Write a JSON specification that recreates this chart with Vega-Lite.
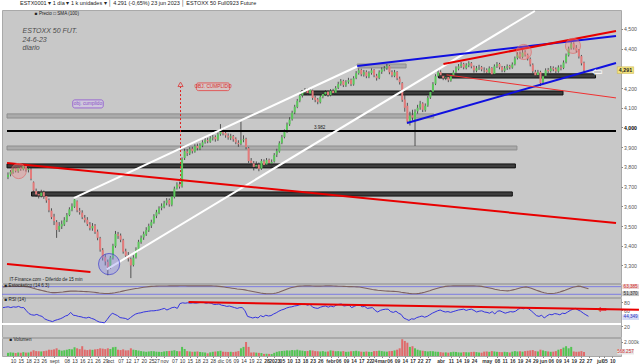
{
"$schema":"https://vega.github.io/schema/vega-lite/v6.json",
"background":"#ffffff",
"padding":0,
"spacing":1,
"bounds":"flush",
"title":{"text":"ESTX0001 ▾    1 día ▾    1 k unidades ▾    │    4.291 (-0,65%)  23 jun 2023   │  ESTOXX 50 Full0923 Future","anchor":"start","frame":"group","fontSize":5.5,"fontWeight":"normal","font":"Liberation Sans","color":"#222222","offset":3,"dx":18},
"datasets":{
"k":[
{"t":0,"o":3748,"h":3772,"l":3738,"c":3760,"v":450,"r":66,"s":78},
{"t":1,"o":3762,"h":3784,"l":3752,"c":3775,"v":520,"r":67,"s":80},
{"t":2,"o":3772,"h":3798,"l":3765,"c":3790,"v":480,"r":68,"s":82},
{"t":3,"o":3792,"h":3802,"l":3772,"c":3780,"v":430,"r":66,"s":82},
{"t":4,"o":3778,"h":3806,"l":3770,"c":3795,"v":500,"r":68,"s":83},
{"t":5,"o":3797,"h":3808,"l":3780,"c":3790,"v":460,"r":67,"s":84},
{"t":6,"o":3788,"h":3815,"l":3782,"c":3805,"v":550,"r":69,"s":84},
{"t":7,"o":3806,"h":3812,"l":3776,"c":3785,"v":480,"r":66,"s":83},
{"t":8,"o":3784,"h":3800,"l":3772,"c":3790,"v":500,"r":66,"s":82},
{"t":9,"o":3788,"h":3794,"l":3732,"c":3740,"v":620,"r":58,"s":80},
{"t":10,"o":3722,"h":3726,"l":3668,"c":3680,"v":820,"r":51,"s":77},
{"t":11,"o":3678,"h":3690,"l":3648,"c":3660,"v":700,"r":48,"s":72},
{"t":12,"o":3662,"h":3676,"l":3640,"c":3655,"v":680,"r":47,"s":66},
{"t":13,"o":3652,"h":3684,"l":3645,"c":3670,"v":650,"r":49,"s":60},
{"t":14,"o":3672,"h":3680,"l":3638,"c":3650,"v":700,"r":46,"s":55},
{"t":15,"o":3652,"h":3662,"l":3618,"c":3630,"v":760,"r":44,"s":50},
{"t":16,"o":3632,"h":3640,"l":3570,"c":3580,"v":900,"r":38,"s":45},
{"t":17,"o":3578,"h":3590,"l":3535,"c":3545,"v":880,"r":35,"s":40},
{"t":18,"o":3548,"h":3562,"l":3505,"c":3525,"v":950,"r":33,"s":36},
{"t":19,"o":3520,"h":3530,"l":3440,"c":3480,"v":1100,"r":31,"s":33},
{"t":20,"o":3482,"h":3520,"l":3470,"c":3500,"v":880,"r":34,"s":33},
{"t":21,"o":3498,"h":3528,"l":3485,"c":3510,"v":760,"r":36,"s":34},
{"t":22,"o":3508,"h":3545,"l":3500,"c":3530,"v":820,"r":38,"s":36},
{"t":23,"o":3528,"h":3566,"l":3520,"c":3555,"v":900,"r":41,"s":38},
{"t":24,"o":3556,"h":3595,"l":3550,"c":3585,"v":1000,"r":45,"s":41},
{"t":25,"o":3582,"h":3615,"l":3575,"c":3600,"v":950,"r":47,"s":43},
{"t":26,"o":3598,"h":3642,"l":3592,"c":3635,"v":1250,"r":54,"s":45},
{"t":27,"o":3625,"h":3630,"l":3570,"c":3580,"v":1100,"r":47,"s":46},
{"t":28,"o":3578,"h":3592,"l":3558,"c":3570,"v":980,"r":46,"s":45},
{"t":29,"o":3568,"h":3580,"l":3535,"c":3545,"v":1400,"r":44,"s":44},
{"t":30,"o":3542,"h":3556,"l":3518,"c":3530,"v":900,"r":43,"s":43},
{"t":31,"o":3532,"h":3545,"l":3500,"c":3510,"v":850,"r":41,"s":42},
{"t":32,"o":3508,"h":3520,"l":3478,"c":3490,"v":920,"r":40,"s":41},
{"t":33,"o":3488,"h":3515,"l":3476,"c":3500,"v":880,"r":42,"s":40},
{"t":34,"o":3502,"h":3510,"l":3460,"c":3470,"v":950,"r":39,"s":38},
{"t":35,"o":3472,"h":3482,"l":3428,"c":3440,"v":1000,"r":37,"s":36},
{"t":36,"o":3438,"h":3445,"l":3370,"c":3380,"v":1100,"r":33,"s":33},
{"t":37,"o":3378,"h":3388,"l":3325,"c":3340,"v":1050,"r":30,"s":30},
{"t":38,"o":3342,"h":3356,"l":3300,"c":3320,"v":980,"r":29,"s":28},
{"t":39,"o":3318,"h":3330,"l":3250,"c":3290,"v":1100,"r":28,"s":26},
{"t":40,"o":3292,"h":3348,"l":3282,"c":3340,"v":1000,"r":36,"s":26},
{"t":41,"o":3338,"h":3410,"l":3330,"c":3400,"v":1250,"r":45,"s":27},
{"t":42,"o":3398,"h":3475,"l":3390,"c":3460,"v":1300,"r":52,"s":29},
{"t":43,"o":3458,"h":3470,"l":3435,"c":3450,"v":900,"r":49,"s":32},
{"t":44,"o":3452,"h":3462,"l":3418,"c":3430,"v":850,"r":46,"s":36},
{"t":45,"o":3428,"h":3435,"l":3360,"c":3370,"v":950,"r":41,"s":40},
{"t":46,"o":3372,"h":3385,"l":3338,"c":3350,"v":800,"r":40,"s":45},
{"t":47,"o":3352,"h":3368,"l":3320,"c":3335,"v":820,"r":39,"s":50},
{"t":48,"o":3332,"h":3340,"l":3236,"c":3300,"v":1100,"r":36,"s":54},
{"t":49,"o":3302,"h":3352,"l":3295,"c":3340,"v":900,"r":41,"s":58},
{"t":50,"o":3342,"h":3392,"l":3335,"c":3380,"v":850,"r":46,"s":62},
{"t":51,"o":3378,"h":3430,"l":3372,"c":3420,"v":780,"r":50,"s":65},
{"t":52,"o":3418,"h":3452,"l":3410,"c":3440,"v":700,"r":52,"s":68},
{"t":53,"o":3442,"h":3472,"l":3430,"c":3460,"v":650,"r":53,"s":72},
{"t":54,"o":3458,"h":3494,"l":3450,"c":3480,"v":600,"r":55,"s":75},
{"t":55,"o":3478,"h":3512,"l":3470,"c":3500,"v":650,"r":56,"s":78},
{"t":56,"o":3502,"h":3532,"l":3490,"c":3520,"v":700,"r":57,"s":80},
{"t":57,"o":3518,"h":3560,"l":3512,"c":3550,"v":680,"r":58,"s":82},
{"t":58,"o":3552,"h":3582,"l":3540,"c":3570,"v":620,"r":58,"s":83},
{"t":59,"o":3568,"h":3600,"l":3560,"c":3590,"v":600,"r":59,"s":84},
{"t":60,"o":3592,"h":3615,"l":3580,"c":3600,"v":580,"r":60,"s":85},
{"t":61,"o":3598,"h":3628,"l":3590,"c":3615,"v":650,"r":62,"s":85},
{"t":62,"o":3618,"h":3642,"l":3605,"c":3630,"v":700,"r":64,"s":85},
{"t":63,"o":3632,"h":3640,"l":3598,"c":3610,"v":720,"r":60,"s":85},
{"t":64,"o":3608,"h":3660,"l":3600,"c":3650,"v":750,"r":63,"s":86},
{"t":65,"o":3648,"h":3700,"l":3640,"c":3690,"v":820,"r":66,"s":86},
{"t":66,"o":3692,"h":3722,"l":3685,"c":3710,"v":700,"r":67,"s":86},
{"t":67,"o":3712,"h":3725,"l":3690,"c":3700,"v":680,"r":64,"s":86},
{"t":68,"o":3702,"h":3848,"l":3695,"c":3840,"v":1300,"r":76,"s":87},
{"t":69,"o":3845,"h":3892,"l":3835,"c":3880,"v":1000,"r":78,"s":87},
{"t":70,"o":3878,"h":3890,"l":3855,"c":3870,"v":700,"r":77,"s":87},
{"t":71,"o":3868,"h":3900,"l":3860,"c":3890,"v":650,"r":78,"s":86},
{"t":72,"o":3892,"h":3902,"l":3868,"c":3880,"v":600,"r":77,"s":86},
{"t":73,"o":3878,"h":3915,"l":3872,"c":3905,"v":620,"r":78,"s":86},
{"t":74,"o":3906,"h":3918,"l":3884,"c":3895,"v":650,"r":77,"s":86},
{"t":75,"o":3893,"h":3920,"l":3885,"c":3910,"v":580,"r":78,"s":86},
{"t":76,"o":3908,"h":3935,"l":3900,"c":3925,"v":540,"r":79,"s":86},
{"t":77,"o":3926,"h":3946,"l":3918,"c":3935,"v":500,"r":79,"s":86},
{"t":78,"o":3936,"h":3948,"l":3920,"c":3930,"v":380,"r":77,"s":86},
{"t":79,"o":3928,"h":3956,"l":3922,"c":3945,"v":520,"r":78,"s":86},
{"t":80,"o":3946,"h":3962,"l":3934,"c":3950,"v":600,"r":77,"s":86},
{"t":81,"o":3952,"h":3960,"l":3928,"c":3940,"v":640,"r":74,"s":85},
{"t":82,"o":3938,"h":3975,"l":3932,"c":3965,"v":680,"r":74,"s":84},
{"t":83,"o":3966,"h":4017,"l":3958,"c":3985,"v":750,"r":75,"s":82},
{"t":84,"o":3984,"h":3995,"l":3960,"c":3970,"v":620,"r":72,"s":80},
{"t":85,"o":3972,"h":3982,"l":3948,"c":3960,"v":600,"r":71,"s":77},
{"t":86,"o":3958,"h":3970,"l":3938,"c":3950,"v":580,"r":69,"s":74},
{"t":87,"o":3948,"h":3968,"l":3936,"c":3955,"v":600,"r":70,"s":71},
{"t":88,"o":3956,"h":3962,"l":3928,"c":3940,"v":560,"r":68,"s":68},
{"t":89,"o":3942,"h":3950,"l":3915,"c":3925,"v":620,"r":66,"s":65},
{"t":90,"o":3922,"h":3935,"l":3902,"c":3915,"v":700,"r":64,"s":62},
{"t":91,"o":3918,"h":4030,"l":3910,"c":3935,"v":1100,"r":66,"s":60},
{"t":92,"o":3936,"h":3960,"l":3925,"c":3940,"v":1300,"r":66,"s":58},
{"t":93,"o":3942,"h":3948,"l":3890,"c":3900,"v":2000,"r":58,"s":55},
{"t":94,"o":3895,"h":3900,"l":3820,"c":3830,"v":1300,"r":44,"s":50},
{"t":95,"o":3832,"h":3845,"l":3805,"c":3820,"v":500,"r":42,"s":46},
{"t":96,"o":3818,"h":3830,"l":3782,"c":3800,"v":520,"r":40,"s":42},
{"t":97,"o":3802,"h":3828,"l":3792,"c":3810,"v":480,"r":42,"s":38},
{"t":98,"o":3812,"h":3822,"l":3778,"c":3790,"v":450,"r":40,"s":34},
{"t":99,"o":3792,"h":3840,"l":3785,"c":3830,"v":420,"r":46,"s":30},
{"t":100,"o":3828,"h":3838,"l":3798,"c":3810,"v":300,"r":43,"s":27},
{"t":101,"o":3812,"h":3845,"l":3805,"c":3835,"v":320,"r":47,"s":25},
{"t":102,"o":3836,"h":3842,"l":3808,"c":3820,"v":300,"r":45,"s":24},
{"t":103,"o":3818,"h":3838,"l":3800,"c":3825,"v":280,"r":46,"s":24},
{"t":104,"o":3828,"h":3870,"l":3822,"c":3860,"v":450,"r":50,"s":26},
{"t":105,"o":3862,"h":3892,"l":3850,"c":3880,"v":600,"r":53,"s":30},
{"t":106,"o":3878,"h":3930,"l":3872,"c":3920,"v":680,"r":57,"s":36},
{"t":107,"o":3922,"h":3962,"l":3915,"c":3950,"v":720,"r":60,"s":44},
{"t":108,"o":3952,"h":3990,"l":3945,"c":3980,"v":750,"r":62,"s":52},
{"t":109,"o":3978,"h":4025,"l":3972,"c":4015,"v":800,"r":65,"s":60},
{"t":110,"o":4016,"h":4052,"l":4008,"c":4040,"v":780,"r":67,"s":67},
{"t":111,"o":4042,"h":4085,"l":4035,"c":4075,"v":850,"r":68,"s":73},
{"t":112,"o":4076,"h":4115,"l":4068,"c":4105,"v":820,"r":70,"s":78},
{"t":113,"o":4104,"h":4145,"l":4098,"c":4135,"v":900,"r":71,"s":82},
{"t":114,"o":4136,"h":4170,"l":4128,"c":4160,"v":800,"r":73,"s":84},
{"t":115,"o":4162,"h":4190,"l":4152,"c":4180,"v":760,"r":74,"s":85},
{"t":116,"o":4178,"h":4200,"l":4170,"c":4190,"v":700,"r":75,"s":86},
{"t":117,"o":4192,"h":4198,"l":4165,"c":4175,"v":720,"r":72,"s":86},
{"t":118,"o":4172,"h":4200,"l":4165,"c":4190,"v":820,"r":74,"s":86},
{"t":119,"o":4188,"h":4192,"l":4140,"c":4150,"v":780,"r":67,"s":85},
{"t":120,"o":4152,"h":4162,"l":4128,"c":4140,"v":700,"r":65,"s":84},
{"t":121,"o":4142,"h":4150,"l":4118,"c":4130,"v":680,"r":64,"s":84},
{"t":122,"o":4128,"h":4165,"l":4122,"c":4155,"v":650,"r":67,"s":84},
{"t":123,"o":4156,"h":4180,"l":4148,"c":4170,"v":700,"r":69,"s":85},
{"t":124,"o":4168,"h":4190,"l":4160,"c":4180,"v":620,"r":70,"s":86},
{"t":125,"o":4182,"h":4188,"l":4155,"c":4165,"v":650,"r":67,"s":86},
{"t":126,"o":4164,"h":4195,"l":4158,"c":4185,"v":800,"r":70,"s":86},
{"t":127,"o":4186,"h":4196,"l":4165,"c":4175,"v":750,"r":68,"s":85},
{"t":128,"o":4176,"h":4210,"l":4170,"c":4200,"v":680,"r":72,"s":84},
{"t":129,"o":4202,"h":4232,"l":4195,"c":4220,"v":700,"r":74,"s":83},
{"t":130,"o":4222,"h":4246,"l":4212,"c":4235,"v":650,"r":75,"s":83},
{"t":131,"o":4236,"h":4242,"l":4205,"c":4215,"v":700,"r":70,"s":82},
{"t":132,"o":4214,"h":4240,"l":4206,"c":4230,"v":600,"r":71,"s":81},
{"t":133,"o":4232,"h":4252,"l":4222,"c":4240,"v":620,"r":72,"s":80},
{"t":134,"o":4242,"h":4248,"l":4210,"c":4220,"v":680,"r":66,"s":80},
{"t":135,"o":4218,"h":4260,"l":4212,"c":4250,"v":700,"r":69,"s":79},
{"t":136,"o":4252,"h":4286,"l":4245,"c":4275,"v":750,"r":72,"s":78},
{"t":137,"o":4276,"h":4300,"l":4268,"c":4290,"v":680,"r":73,"s":77},
{"t":138,"o":4292,"h":4298,"l":4260,"c":4270,"v":620,"r":68,"s":74},
{"t":139,"o":4268,"h":4292,"l":4258,"c":4280,"v":600,"r":69,"s":70},
{"t":140,"o":4282,"h":4290,"l":4250,"c":4260,"v":650,"r":64,"s":66},
{"t":141,"o":4258,"h":4285,"l":4250,"c":4275,"v":600,"r":65,"s":62},
{"t":142,"o":4276,"h":4300,"l":4268,"c":4290,"v":580,"r":66,"s":58},
{"t":143,"o":4292,"h":4296,"l":4255,"c":4265,"v":700,"r":59,"s":55},
{"t":144,"o":4262,"h":4272,"l":4238,"c":4250,"v":720,"r":55,"s":52},
{"t":145,"o":4252,"h":4290,"l":4245,"c":4280,"v":760,"r":59,"s":50},
{"t":146,"o":4282,"h":4305,"l":4272,"c":4295,"v":700,"r":61,"s":48},
{"t":147,"o":4296,"h":4312,"l":4285,"c":4300,"v":650,"r":62,"s":46},
{"t":148,"o":4302,"h":4322,"l":4292,"c":4310,"v":620,"r":62,"s":45},
{"t":149,"o":4312,"h":4316,"l":4270,"c":4280,"v":700,"r":56,"s":44},
{"t":150,"o":4282,"h":4290,"l":4255,"c":4265,"v":720,"r":54,"s":43},
{"t":151,"o":4262,"h":4292,"l":4255,"c":4280,"v":800,"r":57,"s":42},
{"t":152,"o":4282,"h":4286,"l":4240,"c":4250,"v":900,"r":52,"s":40},
{"t":153,"o":4248,"h":4258,"l":4218,"c":4230,"v":1100,"r":49,"s":36},
{"t":154,"o":4225,"h":4230,"l":4130,"c":4140,"v":2400,"r":40,"s":33},
{"t":155,"o":4142,"h":4170,"l":4080,"c":4100,"v":2150,"r":37,"s":30},
{"t":156,"o":4110,"h":4125,"l":4020,"c":4030,"v":1900,"r":34,"s":27},
{"t":157,"o":4028,"h":4080,"l":4010,"c":4060,"v":1300,"r":38,"s":25},
{"t":158,"o":4062,"h":4090,"l":4035,"c":4050,"v":1400,"r":37,"s":24},
{"t":159,"o":4040,"h":4092,"l":3906,"c":4080,"v":1100,"r":41,"s":25},
{"t":160,"o":4082,"h":4115,"l":4070,"c":4100,"v":900,"r":43,"s":27},
{"t":161,"o":4102,"h":4135,"l":4090,"c":4120,"v":800,"r":45,"s":31},
{"t":162,"o":4122,"h":4128,"l":4078,"c":4090,"v":750,"r":42,"s":36},
{"t":163,"o":4088,"h":4122,"l":4080,"c":4110,"v":700,"r":44,"s":42},
{"t":164,"o":4112,"h":4160,"l":4105,"c":4150,"v":650,"r":48,"s":48},
{"t":165,"o":4152,"h":4190,"l":4145,"c":4180,"v":700,"r":52,"s":55},
{"t":166,"o":4182,"h":4230,"l":4175,"c":4220,"v":680,"r":55,"s":62},
{"t":167,"o":4222,"h":4270,"l":4215,"c":4260,"v":620,"r":58,"s":68},
{"t":168,"o":4262,"h":4292,"l":4255,"c":4280,"v":600,"r":60,"s":74},
{"t":169,"o":4282,"h":4290,"l":4255,"c":4265,"v":550,"r":57,"s":78},
{"t":170,"o":4262,"h":4272,"l":4240,"c":4250,"v":500,"r":55,"s":82},
{"t":171,"o":4252,"h":4268,"l":4240,"c":4255,"v":520,"r":56,"s":84},
{"t":172,"o":4256,"h":4264,"l":4230,"c":4240,"v":480,"r":54,"s":85},
{"t":173,"o":4238,"h":4270,"l":4232,"c":4260,"v":550,"r":56,"s":86},
{"t":174,"o":4262,"h":4290,"l":4255,"c":4280,"v":600,"r":58,"s":86},
{"t":175,"o":4282,"h":4310,"l":4275,"c":4300,"v":580,"r":60,"s":86},
{"t":176,"o":4298,"h":4322,"l":4290,"c":4310,"v":520,"r":61,"s":86},
{"t":177,"o":4312,"h":4332,"l":4302,"c":4320,"v":500,"r":62,"s":86},
{"t":178,"o":4322,"h":4328,"l":4295,"c":4305,"v":560,"r":59,"s":86},
{"t":179,"o":4302,"h":4326,"l":4295,"c":4315,"v":540,"r":61,"s":86},
{"t":180,"o":4316,"h":4336,"l":4306,"c":4325,"v":520,"r":62,"s":86},
{"t":181,"o":4326,"h":4332,"l":4300,"c":4310,"v":580,"r":59,"s":86},
{"t":182,"o":4308,"h":4314,"l":4278,"c":4290,"v":600,"r":55,"s":85},
{"t":183,"o":4288,"h":4312,"l":4280,"c":4300,"v":560,"r":57,"s":84},
{"t":184,"o":4302,"h":4318,"l":4292,"c":4305,"v":500,"r":58,"s":82},
{"t":185,"o":4306,"h":4312,"l":4285,"c":4295,"v":480,"r":55,"s":78},
{"t":186,"o":4292,"h":4305,"l":4278,"c":4290,"v":620,"r":54,"s":74},
{"t":187,"o":4292,"h":4300,"l":4268,"c":4280,"v":650,"r":52,"s":70},
{"t":188,"o":4278,"h":4310,"l":4270,"c":4300,"v":600,"r":56,"s":65},
{"t":189,"o":4302,"h":4306,"l":4258,"c":4270,"v":700,"r":50,"s":60},
{"t":190,"o":4272,"h":4320,"l":4265,"c":4310,"v":650,"r":57,"s":56},
{"t":191,"o":4312,"h":4332,"l":4302,"c":4320,"v":600,"r":58,"s":52},
{"t":192,"o":4322,"h":4328,"l":4295,"c":4305,"v":580,"r":55,"s":50},
{"t":193,"o":4306,"h":4312,"l":4280,"c":4290,"v":550,"r":52,"s":48},
{"t":194,"o":4288,"h":4312,"l":4280,"c":4300,"v":600,"r":54,"s":47},
{"t":195,"o":4302,"h":4320,"l":4292,"c":4310,"v":560,"r":56,"s":50},
{"t":196,"o":4312,"h":4318,"l":4295,"c":4305,"v":500,"r":55,"s":55},
{"t":197,"o":4304,"h":4330,"l":4298,"c":4320,"v":620,"r":57,"s":60},
{"t":198,"o":4322,"h":4360,"l":4315,"c":4350,"v":700,"r":62,"s":66},
{"t":199,"o":4352,"h":4382,"l":4345,"c":4370,"v":650,"r":65,"s":72},
{"t":200,"o":4372,"h":4385,"l":4350,"c":4360,"v":680,"r":63,"s":76},
{"t":201,"o":4358,"h":4395,"l":4350,"c":4380,"v":620,"r":66,"s":78},
{"t":202,"o":4382,"h":4392,"l":4360,"c":4370,"v":700,"r":63,"s":74},
{"t":203,"o":4368,"h":4375,"l":4340,"c":4350,"v":750,"r":58,"s":68},
{"t":204,"o":4348,"h":4355,"l":4310,"c":4320,"v":800,"r":52,"s":60},
{"t":205,"o":4318,"h":4325,"l":4275,"c":4285,"v":850,"r":46,"s":52},
{"t":206,"o":4282,"h":4292,"l":4255,"c":4265,"v":700,"r":44,"s":45},
{"t":207,"o":4266,"h":4292,"l":4256,"c":4280,"v":650,"r":47,"s":38},
{"t":208,"o":4282,"h":4288,"l":4210,"c":4225,"v":900,"r":40,"s":32},
{"t":209,"o":4228,"h":4272,"l":4220,"c":4260,"v":800,"r":45,"s":28},
{"t":210,"o":4262,"h":4300,"l":4255,"c":4290,"v":700,"r":49,"s":26},
{"t":211,"o":4292,"h":4302,"l":4275,"c":4285,"v":650,"r":48,"s":26},
{"t":212,"o":4286,"h":4312,"l":4278,"c":4300,"v":600,"r":51,"s":28},
{"t":213,"o":4302,"h":4310,"l":4285,"c":4295,"v":620,"r":50,"s":32},
{"t":214,"o":4296,"h":4305,"l":4275,"c":4285,"v":700,"r":48,"s":38},
{"t":215,"o":4284,"h":4315,"l":4278,"c":4305,"v":900,"r":52,"s":45},
{"t":216,"o":4306,"h":4318,"l":4290,"c":4300,"v":1000,"r":51,"s":52},
{"t":217,"o":4302,"h":4340,"l":4296,"c":4330,"v":1200,"r":55,"s":60},
{"t":218,"o":4332,"h":4375,"l":4325,"c":4365,"v":1400,"r":59,"s":68},
{"t":219,"o":4366,"h":4410,"l":4360,"c":4400,"v":1100,"r":62,"s":75},
{"t":220,"o":4402,"h":4445,"l":4395,"c":4425,"v":1300,"r":64,"s":80},
{"t":221,"o":4426,"h":4432,"l":4395,"c":4405,"v":650,"r":60,"s":84},
{"t":222,"o":4404,"h":4418,"l":4380,"c":4390,"v":600,"r":57,"s":82},
{"t":223,"o":4392,"h":4398,"l":4350,"c":4360,"v":620,"r":52,"s":76},
{"t":224,"o":4362,"h":4368,"l":4315,"c":4325,"v":700,"r":48,"s":70},
{"t":225,"o":4328,"h":4334,"l":4282,"c":4291,"v":568,"r":44.3,"s":63}
],
"bandas":[
{"t1":-0.38,"t2":198.2,"p1":3795,"p2":3815,"kind":"oscura"},
{"t1":9.2,"t2":197,"p1":3652,"p2":3673,"kind":"oscura"},
{"t1":114.5,"t2":216.8,"p1":4165,"p2":4185,"kind":"oscura"},
{"t1":168.2,"t2":229.5,"p1":4251,"p2":4272,"kind":"oscura"},
{"t1":-0.38,"t2":166.3,"p1":4048,"p2":4069,"kind":"gris"},
{"t1":-0.38,"t2":198.8,"p1":3886,"p2":3906,"kind":"gris"},
{"t1":136.4,"t2":155.5,"p1":4302,"p2":4322,"kind":"gris"}
],
"lineas":[
{"t1":-0.38,"p1":3982,"t2":237.5,"p2":3982,"kind":"negra"},
{"t1":25.7,"p1":3642,"t2":136.8,"p2":4312,"kind":"blanca"},
{"t1":38.6,"p1":3280,"t2":205.8,"p2":4591,"kind":"blanca"},
{"t1":136.4,"p1":4312,"t2":237.5,"p2":4464,"kind":"azul"},
{"t1":155.9,"p1":4023,"t2":237.5,"p2":4327,"kind":"azul"},
{"t1":170.1,"p1":4322,"t2":237.5,"p2":4490,"kind":"roja"},
{"t1":171.3,"p1":4267,"t2":237.5,"p2":4150,"kind":"roja fina"},
{"t1":-0.38,"p1":3820,"t2":237.5,"p2":3515,"kind":"roja"},
{"t1":-0.38,"p1":3307,"t2":32.2,"p2":3267,"kind":"roja"}
],
"circulos":[
{"t":4.2,"p":3779,"kind":"rosa"},
{"t":201.5,"p":4383,"kind":"rosa"},
{"t":220.7,"p":4414,"kind":"rosa"},
{"t":39.5,"p":3307,"kind":"azul"}
]
},
"vconcat":[
{
"width":619,"height":273,
"resolve":{"axis":{"x":"independent","y":"independent"}},
"layer":[
{"data":{"name":"bandas"},"mark":{"type":"rect","strokeWidth":1},
 "encoding":{
  "x":{"field":"t1","type":"quantitative","scale":{"domain":[-0.38,237.5],"nice":false,"zero":false},"axis":null},
  "x2":{"field":"t2"},
  "y":{"field":"p1","type":"quantitative","scale":{"domain":[3211,4596],"nice":false,"zero":false},
   "axis":{"orient":"right","title":null,"values":[3300,3400,3500,3600,3700,3800,3900,4000,4100,4200,4400,4500],"labelExpr":"floor(datum.value/1000) + ',' + format(datum.value % 1000, '03')","labelOverlap":false,"labelFontWeight":{"condition":{"test":"datum.value==4000","value":"bold"},"value":"normal"},"labelColor":{"condition":{"test":"datum.value==4000","value":"#000000"},"value":"#555555"}}},
  "y2":{"field":"p2"},
  "fill":{"condition":{"test":"datum.kind=='oscura'","value":"#3d3d3d"},"value":"#ababab"},
  "stroke":{"condition":{"test":"datum.kind=='oscura'","value":"#111111"},"value":"#8e8e8e"}}},
{"data":{"name":"k"},"mark":{"type":"rule","color":"#333333","strokeWidth":0.8},
 "encoding":{
  "x":{"field":"t","type":"quantitative","axis":null},
  "y":{"field":"l","type":"quantitative","axis":null},
  "y2":{"field":"h"}}},
{"data":{"name":"k"},"mark":{"type":"bar","size":2,"orient":"vertical"},
 "encoding":{
  "x":{"field":"t","type":"quantitative","axis":null},
  "y":{"field":"o","type":"quantitative","axis":null},
  "y2":{"field":"c"},
  "color":{"condition":{"test":"datum.c>=datum.o","value":"#5cc75c"},"value":"#e47a7a"}}},
{"data":{"name":"lineas"},"mark":{"type":"rule"},
 "encoding":{
  "x":{"field":"t1","type":"quantitative","axis":null},
  "x2":{"field":"t2"},
  "y":{"field":"p1","type":"quantitative","axis":null},
  "y2":{"field":"p2"},
  "color":{"condition":[{"test":"datum.kind=='blanca'","value":"#ffffff"},{"test":"datum.kind=='azul'","value":"#1010e0"},{"test":"datum.kind=='negra'","value":"#000000"},{"test":"datum.kind=='roja fina'","value":"#f03030"}],"value":"#e80000"},
  "strokeWidth":{"condition":[{"test":"datum.kind=='roja fina'","value":1},{"test":"datum.kind=='negra'","value":2}],"value":2}}},
{"data":{"values":[{"t":67.4,"p1":3713,"p2":4206}]},"mark":{"type":"rule","color":"#e02020","strokeWidth":1,"strokeDash":[2,2]},
 "encoding":{
  "x":{"field":"t","type":"quantitative","axis":null},
  "y":{"field":"p1","type":"quantitative","axis":null},
  "y2":{"field":"p2"}}},
{"data":{"values":[{"t":67.4,"p":4219}]},"mark":{"type":"point","shape":"triangle-up","filled":false,"color":"#e02020","size":26,"strokeWidth":1},
 "encoding":{
  "x":{"field":"t","type":"quantitative","axis":null},
  "y":{"field":"p","type":"quantitative","axis":null}}},
{"data":{"name":"circulos"},"mark":{"type":"point","shape":"circle","filled":true,"strokeWidth":1},
 "encoding":{
  "x":{"field":"t","type":"quantitative","axis":null},
  "y":{"field":"p","type":"quantitative","axis":null},
  "size":{"condition":{"test":"datum.kind=='azul'","value":450},"value":230},
  "fill":{"condition":{"test":"datum.kind=='azul'","value":"#8a8af0"},"value":"#f08a8a"},
  "stroke":{"condition":{"test":"datum.kind=='azul'","value":"#3a3ad0"},"value":"#e06a6a"},
  "fillOpacity":{"value":0.5}}},
{"data":{"values":[{"t1":73.6,"t2":86.6,"p1":4187,"p2":4226,"kind":"roja"},{"t1":25.3,"t2":37.2,"p1":4099,"p2":4140,"kind":"morada"}]},"mark":{"type":"rect","cornerRadius":2,"strokeWidth":1},
 "encoding":{
  "x":{"field":"t1","type":"quantitative","axis":null},
  "x2":{"field":"t2"},
  "y":{"field":"p1","type":"quantitative","axis":null},
  "y2":{"field":"p2"},
  "fill":{"condition":{"test":"datum.kind=='roja'","value":"#d6c4c4"},"value":"#cfc7dc"},
  "stroke":{"condition":{"test":"datum.kind=='roja'","value":"#e05a5a"},"value":"#9a6ad0"}}},
{"data":{"values":[{"t":80.1,"p":4206,"txt":"OBJ. CUMPLIDO","kind":"roja"},{"t":31.25,"p":4119,"txt":"obj. cumplido","kind":"morada"}]},"mark":{"type":"text","fontSize":4.8,"align":"center","baseline":"middle","font":"Liberation Sans"},
 "encoding":{
  "x":{"field":"t","type":"quantitative","axis":null},
  "y":{"field":"p","type":"quantitative","axis":null},
  "text":{"field":"txt"},
  "color":{"condition":{"test":"datum.kind=='roja'","value":"#d83030"},"value":"#8a50c8"}}},
{"data":{"values":[{"t":5.7,"p":4490,"txt":"ESTOXX 50 FUT."},{"t":5.7,"p":4446,"txt":"24-6-23"},{"t":5.7,"p":4404,"txt":"diario"}]},"mark":{"type":"text","fontSize":7,"fontStyle":"italic","align":"left","baseline":"middle","color":"#4a4a4a","font":"Liberation Sans"},
 "encoding":{
  "x":{"field":"t","type":"quantitative","axis":null},
  "y":{"field":"p","type":"quantitative","axis":null},
  "text":{"field":"txt"}}},
{"data":{"values":[{"t":0.6,"p":3228,"txt":"IT-Finance.com - Diferido de 15 min"},{"t":119.5,"p":3998,"txt":"3.982"},{"t":10.5,"p":4578,"txt":"■ Precio   □ SMA (100)"}]},"mark":{"type":"text","fontSize":4.6,"align":"left","baseline":"middle","color":"#222222","font":"Liberation Sans"},
 "encoding":{
  "x":{"field":"t","type":"quantitative","axis":null},
  "y":{"field":"p","type":"quantitative","axis":null},
  "text":{"field":"txt"}}},
{"data":{"values":[{"t":230.3,"p":4279,"txt":"⇦"}]},"mark":{"type":"text","fontSize":13,"align":"center","baseline":"middle","color":"#ffffff","font":"DejaVu Sans"},
 "encoding":{
  "x":{"field":"t","type":"quantitative","axis":null},
  "y":{"field":"p","type":"quantitative","axis":null},
  "text":{"field":"txt"}}},
{"data":{"values":[{"t1":238,"t2":244.4,"p1":4274,"p2":4308}]},"mark":{"type":"rect","fill":"#f2e27c","stroke":"#c9b24a","strokeWidth":0.5},
 "encoding":{
  "x":{"field":"t1","type":"quantitative","axis":null},
  "x2":{"field":"t2"},
  "y":{"field":"p1","type":"quantitative","axis":null},
  "y2":{"field":"p2"}}},
{"data":{"values":[{"t":241.2,"p":4291,"txt":"4,291"}]},"mark":{"type":"text","fontSize":5.3,"fontWeight":"bold","align":"center","baseline":"middle","color":"#222222","font":"Liberation Sans"},
 "encoding":{
  "x":{"field":"t","type":"quantitative","axis":null},
  "y":{"field":"p","type":"quantitative","axis":null},
  "text":{"field":"txt"}}}
]
},
{
"width":619,"height":13,
"layer":[
{"data":{"values":[{"nivel":80},{"nivel":20}]},"mark":{"type":"rule","color":"#6a6ae8","strokeWidth":0.8},
 "encoding":{"y":{"field":"nivel","type":"quantitative","scale":{"domain":[-1.3,101],"nice":false,"zero":false},"axis":null}}},
{"data":{"name":"k"},"mark":{"type":"line","color":"#7d6262","strokeWidth":1.1},
 "encoding":{
  "x":{"field":"t","type":"quantitative","scale":{"domain":[-0.38,237.5],"nice":false,"zero":false},"axis":null},
  "y":{"field":"s","type":"quantitative","axis":null}}},
{"data":{"values":[{"t":0.6,"s":88,"txt":"■ Estocástico (14 6 3)"}]},"mark":{"type":"text","fontSize":4.6,"align":"left","baseline":"middle","color":"#222222","font":"Liberation Sans"},
 "encoding":{
  "x":{"field":"t","type":"quantitative","axis":null},
  "y":{"field":"s","type":"quantitative","axis":null},
  "text":{"field":"txt"}}},
{"data":{"values":[{"t1":238,"t2":244.4,"s1":62,"s2":100,"kind":"k"},{"t1":238,"t2":244.4,"s1":6,"s2":44,"kind":"d"}]},"mark":{"type":"rect"},
 "encoding":{
  "x":{"field":"t1","type":"quantitative","axis":null},
  "x2":{"field":"t2"},
  "y":{"field":"s1","type":"quantitative","axis":null},
  "y2":{"field":"s2"},
  "fill":{"condition":{"test":"datum.kind=='k'","value":"#ecd0d0"},"value":"#c4c4c4"}}},
{"data":{"values":[{"t":241.2,"s":81,"txt":"63,385","kind":"k"},{"t":241.2,"s":25,"txt":"51,370","kind":"d"}]},"mark":{"type":"text","fontSize":4.6,"align":"center","baseline":"middle","font":"Liberation Sans"},
 "encoding":{
  "x":{"field":"t","type":"quantitative","axis":null},
  "y":{"field":"s","type":"quantitative","axis":null},
  "text":{"field":"txt"},
  "color":{"condition":{"test":"datum.kind=='k'","value":"#d03030"},"value":"#333333"}}}
]
},
{
"width":619,"height":39,
"resolve":{"axis":{"x":"independent","y":"independent"}},
"layer":[
{"data":{"values":[{"nivel":25}]},"mark":{"type":"rule","color":"#ffffff","strokeWidth":2},
 "encoding":{"y":{"field":"nivel","type":"quantitative","scale":{"domain":[-7.5,90],"nice":false,"zero":false},
  "axis":{"orient":"right","title":null,"values":[20,60,80],"labelOverlap":false}}}},
{"data":{"name":"k"},"mark":{"type":"line","color":"#3434e0","strokeWidth":1},
 "encoding":{
  "x":{"field":"t","type":"quantitative","scale":{"domain":[-0.38,237.5],"nice":false,"zero":false},"axis":null},
  "y":{"field":"r","type":"quantitative","axis":null}}},
{"data":{"values":[{"t1":71.3,"r1":80,"t2":244.4,"r2":60.5}]},"mark":{"type":"rule","color":"#e80000","strokeWidth":2},
 "encoding":{
  "x":{"field":"t1","type":"quantitative","axis":null},
  "x2":{"field":"t2"},
  "y":{"field":"r1","type":"quantitative","axis":null},
  "y2":{"field":"r2"}}},
{"data":{"values":[{"t":230.3,"r":61,"txt":"⇦"}]},"mark":{"type":"text","fontSize":11,"align":"center","baseline":"middle","color":"#e80000","font":"DejaVu Sans"},
 "encoding":{
  "x":{"field":"t","type":"quantitative","axis":null},
  "y":{"field":"r","type":"quantitative","axis":null},
  "text":{"field":"txt"}}},
{"data":{"values":[{"t":0.6,"r":85,"txt":"■ RSI (14)"}]},"mark":{"type":"text","fontSize":4.6,"align":"left","baseline":"middle","color":"#222222","font":"Liberation Sans"},
 "encoding":{
  "x":{"field":"t","type":"quantitative","axis":null},
  "y":{"field":"r","type":"quantitative","axis":null},
  "text":{"field":"txt"}}},
{"data":{"values":[{"t1":238,"t2":244.4,"r1":35,"r2":49}]},"mark":{"type":"rect","fill":"#d5dcf5"},
 "encoding":{
  "x":{"field":"t1","type":"quantitative","axis":null},
  "x2":{"field":"t2"},
  "y":{"field":"r1","type":"quantitative","axis":null},
  "y2":{"field":"r2"}}},
{"data":{"values":[{"t":241.2,"r":42,"txt":"44,349"}]},"mark":{"type":"text","fontSize":4.6,"align":"center","baseline":"middle","color":"#3030c0","font":"Liberation Sans"},
 "encoding":{
  "x":{"field":"t","type":"quantitative","axis":null},
  "y":{"field":"r","type":"quantitative","axis":null},
  "text":{"field":"txt"}}}
]
},
{
"width":619,"height":18,
"resolve":{"axis":{"x":"independent","y":"independent"}},
"layer":[
{"data":{"name":"k"},"mark":{"type":"bar","size":2},
 "encoding":{
  "x":{"field":"t","type":"quantitative","scale":{"domain":[-0.38,237.5],"nice":false,"zero":false},
   "axis":{"orient":"bottom","title":null,"values":[2,5,8,11,14,18,23,26,29,32,35,38,40,44,47,50,53,56,58,61,65,68,71,74,77,80,83,86,89,92,95,98,101,104,107,110,113,116,119,122,126,129,132,135,138,141,143,146,149,152,155,158,161,164,169,173,176,179,182,187,191,194,197,200,203,206,209,212,215,218,221,224,227,231,233,236],
    "labelExpr":"{'2':'10','5':'15','8':'18','11':'23','14':'26','18':'sept','23':'08','26':'13','29':'16','32':'21','35':'26','38':'29','40':'oct','44':'07','47':'12','50':'17','53':'20','56':'25','58':'27','61':'nov','65':'07','68':'10','71':'15','74':'18','77':'23','80':'28','83':'dic','86':'06','89':'09','92':'14','95':'19','98':'22','101':'28','104':'2023','107':'05','110':'10','113':'13','116':'18','119':'23','122':'26','126':'febr','129':'06','132':'09','135':'14','138':'17','141':'22','143':'24','146':'mar','149':'06','152':'09','155':'14','158':'17','161':'22','164':'27','169':'abr','173':'11','176':'14','179':'19','182':'24','187':'may','191':'08','194':'11','197':'16','200':'19','203':'24','206':'29','209':'jun','212':'06','215':'09','218':'14','221':'19','224':'22','227':'27','231':'jul','233':'05','236':'10'}[datum.value]",
    "labelOverlap":false,"labelFlush":false,"labelBound":false,"labelSeparation":0,"labelColor":"#333333","labelFontSize":5,
    "labelFontWeight":{"condition":{"test":"length(datum.label)>2","value":"bold"},"value":"normal"}}},
  "y":{"field":"v","type":"quantitative","scale":{"domain":[0,2571],"nice":false,"zero":false},
   "axis":{"orient":"right","title":null,"values":[2000],"labelExpr":"'2.000k'","labelFontSize":5}},
  "color":{"condition":{"test":"datum.c>=datum.o","value":"#52c452"},"value":"#e06a6a"}}},
{"data":{"values":[{"t":0.6,"v":2250,"txt":"■ Volumen"}]},"mark":{"type":"text","fontSize":4.6,"align":"left","baseline":"middle","color":"#222222","font":"Liberation Sans"},
 "encoding":{
  "x":{"field":"t","type":"quantitative","axis":null},
  "y":{"field":"v","type":"quantitative","axis":null},
  "text":{"field":"txt"}}},
{"data":{"values":[{"t1":238,"t2":244.5,"v1":215,"v2":1000}]},"mark":{"type":"rect","fill":"#e6e6e6"},
 "encoding":{
  "x":{"field":"t1","type":"quantitative","axis":null},
  "x2":{"field":"t2"},
  "y":{"field":"v1","type":"quantitative","axis":null},
  "y2":{"field":"v2"}}},
{"data":{"values":[{"t":241.2,"v":600,"txt":"568.257"}]},"mark":{"type":"text","fontSize":4.6,"align":"center","baseline":"middle","color":"#d03030","font":"Liberation Sans"},
 "encoding":{
  "x":{"field":"t","type":"quantitative","axis":null},
  "y":{"field":"v","type":"quantitative","axis":null},
  "text":{"field":"txt"}}}
]
}
],
"config":{
"view":{"fill":"#c8c8c8","stroke":"#a9a9a9","strokeWidth":1},
"axis":{"labelFont":"Liberation Sans","labelFontSize":5.2,"labelColor":"#555555","domain":false,"grid":false,"tickSize":1.5,"tickColor":"#888888","labelPadding":1},
"axisX":{"labelOverlap":false}
}
}
